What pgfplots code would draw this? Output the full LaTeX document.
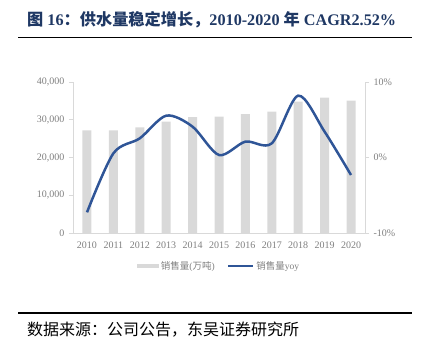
\documentclass[border=0pt]{standalone}
\usepackage{pgfplots}
\pgfplotsset{compat=1.18}
\usepackage{fontspec}
\setmainfont{Liberation Serif}
\newfontfamily\cjk{Noto Sans CJK SC}
\definecolor{barc}{HTML}{D9D9D9}
\definecolor{linec}{HTML}{2F5597}
\definecolor{titlec}{HTML}{1F3864}
\definecolor{tickc}{HTML}{7F7F7F}
\definecolor{axc}{HTML}{D9D9D9}
\begin{document}
\begin{tikzpicture}
\path[use as bounding box] (0bp,0bp) rectangle (422bp,355bp);
\node[anchor=west, text=titlec, font=\fontsize{16.2bp}{19bp}\selectfont\bfseries, inner sep=0] at (27bp,335bp) {{\cjk 图} 16{\cjk ：供水量稳定增长，}2010-2020 {\cjk 年} CAGR2.52\%};
\draw[line width=1.5bp] (18bp,317.5bp) -- (412bp,317.5bp);
\draw[line width=1.5bp] (18bp,42bp) -- (412bp,42bp);
\node[anchor=west, font=\cjk\fontsize{16bp}{19bp}\selectfont, inner sep=0] at (27bp,25bp) {数据来源：公司公告，东吴证券研究所};
\begin{axis}[
  at={(73bp,122bp)}, anchor=south west, scale only axis,
  width=292bp, height=151bp,
  xmin=-0.53, xmax=10.53, ymin=0, ymax=40000,
  axis x line*=bottom, axis y line*=left,
  axis line style={draw=axc, line width=0.8bp},
  xtick={0,...,10},
  xticklabels={2010,2011,2012,2013,2014,2015,2016,2017,2018,2019,2020},
  xtick style={draw=none},
  ytick={0,10000,20000,30000,40000},
  ytick style={draw=axc, line width=0.8bp},
  tick align=outside, major tick length=4bp,
  scaled y ticks=false,
  /pgf/number format/.cd, 1000 sep={,}, assume math mode=true, /pgfplots/.cd,
  ticklabel style={font=\fontsize{10bp}{12bp}\selectfont, text=tickc},
  xticklabel style={yshift=-1bp},
  yticklabel style={xshift=-1bp},
  legend style={at={(0.5,-0.2185)}, anchor=center, draw=none, fill=none,
    legend columns=2, font=\fontsize{9.5bp}{11bp}\selectfont, text=tickc,
    /tikz/every even column/.append style={column sep=10bp}},
]
\addplot[ybar, bar width=9bp, fill=barc, draw=none,
  legend image code/.code={\fill[barc] (0bp,-2.2bp) rectangle (22bp,2.2bp);}]
  coordinates {(0,27200) (1,27200) (2,28000) (3,29500) (4,30700) (5,30800) (6,31500) (7,32150) (8,34800) (9,35850) (10,35060)};
\addlegendentry{{\cjk 销售量}({\cjk 万吨})}
\addlegendimage{linec, line width=2.5bp,
  legend image code/.code={\draw[linec, line width=2.5bp] (0bp,0bp) -- (25bp,0bp);}}
\addlegendentry{{\cjk 销售量}yoy}
\end{axis}
\begin{axis}[
  at={(73bp,122bp)}, anchor=south west, scale only axis,
  width=292bp, height=151bp,
  xmin=-0.53, xmax=10.53, ymin=-10, ymax=10,
  axis x line=none, axis y line*=right,
  axis line style={draw=axc, line width=0.8bp},
  ytick={-10,0,10},
  yticklabels={-10\%,0\%,10\%},
  ytick style={draw=axc, line width=0.8bp},
  tick align=outside, major tick length=4bp,
  ticklabel style={font=\fontsize{10bp}{12bp}\selectfont, text=tickc},
  yticklabel style={xshift=1bp},
]
\addplot[linec, line width=2.5bp, smooth, tension=0.5]
  coordinates {(0,-7.26) (1,0.55) (2,2.54) (3,5.54) (4,4.08) (5,0.33) (6,2.1) (7,1.88) (8,8.19) (9,3.42) (10,-2.32)};
\end{axis}
\end{tikzpicture}
\end{document}
